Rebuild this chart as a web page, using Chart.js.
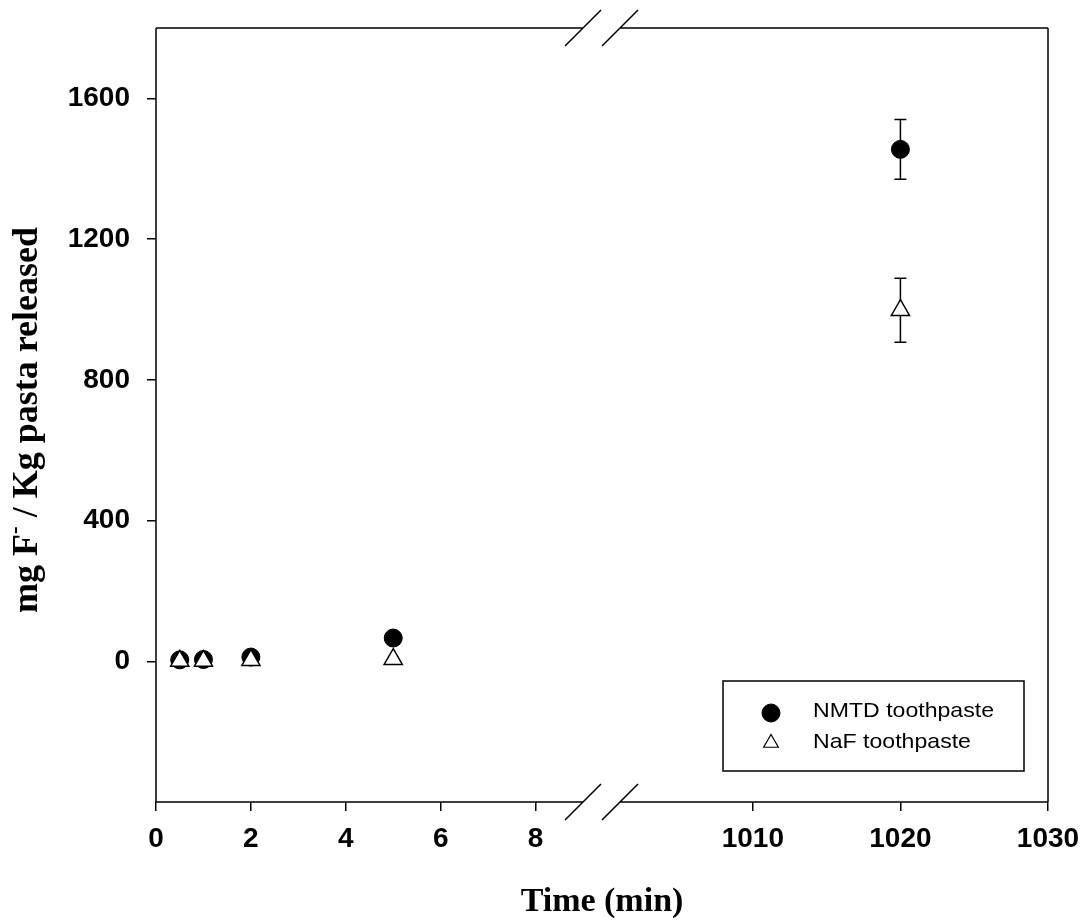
<!DOCTYPE html>
<html>
<head>
<meta charset="utf-8">
<script src="https://cdn.jsdelivr.net/npm/chart.js@4/dist/chart.umd.min.js"></script>
<style>
  html, body { margin: 0; padding: 0; background: #fff; }
  canvas { display: block; }
</style>
</head>
<body>
<canvas id="grafica" width="1088" height="923"></canvas>
<script>
// --- Datos ---
const tiempos = [0.5, 1, 2, 5, 1020];
const nmtd = [4, 5, 12, 66, 1455];
const nmtdErr = [0, 0, 0, 0, 85];
const naf = [1, 1, 3, 6, 998];
const nafErr = [0, 0, 0, 0, 91];
const xTicks = [0, 2, 4, 6, 8, 1010, 1020, 1030];
const yTicks = [0, 400, 800, 1200, 1600];
const etiquetas = ['NMTD toothpaste', 'NaF toothpaste'];

// --- Eje X partido (0-9 | 1001-1030) ---
const TRAMOS = [
    { min: 0, max: 9, from: 0, to: 0.4787 },
    { min: 1001, max: 1030, from: 0.5202, to: 1 }
];

class BrokenScale extends Chart.LinearScale {
    getPixelForValue(v) {
        let t = TRAMOS[TRAMOS.length - 1];
        for (const s of TRAMOS) { if (v <= s.max) { t = s; break; } }
        return this.getPixelForDecimal(t.from + (v - t.min) / (t.max - t.min) * (t.to - t.from));
    }
    getValueForPixel(p) {
        const d = this.getDecimalForPixel(p);
        let t = TRAMOS[TRAMOS.length - 1];
        for (const s of TRAMOS) { if (d <= s.to) { t = s; break; } }
        return t.min + (d - t.from) / (t.to - t.from) * (t.max - t.min);
    }
}
BrokenScale.id = 'broken';
BrokenScale.defaults = Chart.LinearScale.defaults;
Chart.register(BrokenScale);

const tickFont = { family: 'Liberation Sans, Arial, sans-serif', weight: 'bold', size: 28 };
const serif = '"Liberation Serif", "Times New Roman", serif';

// --- Barras de error (debajo de los marcadores) ---
const barrasError = {
    id: 'barrasError',
    beforeDatasetsDraw(chart) {
        const ctx = chart.ctx;
        const x = chart.scales.x, y = chart.scales.y;
        ctx.save();
        ctx.strokeStyle = '#000';
        ctx.lineWidth = 1.5;
        chart.data.datasets.forEach(ds => {
            ds.data.forEach((p, i) => {
                const e = ds.err[i];
                if (!e) return;
                const px = x.getPixelForValue(p.x);
                const top = y.getPixelForValue(p.y + e);
                const bot = y.getPixelForValue(p.y - e);
                ctx.beginPath();
                ctx.moveTo(px, top); ctx.lineTo(px, bot);
                ctx.moveTo(px - 6, top); ctx.lineTo(px + 6, top);
                ctx.moveTo(px - 6, bot); ctx.lineTo(px + 6, bot);
                ctx.stroke();
            });
        });
        ctx.restore();
    }
};

// --- Marco con corte ---
const marco = {
    id: 'marco',
    afterDraw(chart) {
        const ctx = chart.ctx;
        const a = chart.chartArea;
        const x = chart.scales.x;
        const g1 = x.getPixelForDecimal(TRAMOS[0].to);
        const g2 = x.getPixelForDecimal(TRAMOS[1].from);
        ctx.save();
        ctx.strokeStyle = '#000';
        ctx.lineWidth = 1.5;
        ctx.beginPath();
        ctx.moveTo(a.left, a.top); ctx.lineTo(a.left, a.bottom);
        ctx.moveTo(a.right, a.top); ctx.lineTo(a.right, a.bottom);
        [a.top, a.bottom].forEach(yy => {
            ctx.moveTo(a.left, yy); ctx.lineTo(g1, yy);
            ctx.moveTo(g2, yy); ctx.lineTo(a.right, yy);
            ctx.moveTo(g1 - 18, yy + 18); ctx.lineTo(g1 + 18, yy - 18);
            ctx.moveTo(g2 - 18, yy + 18); ctx.lineTo(g2 + 18, yy - 18);
        });
        ctx.stroke();
        ctx.restore();
    }
};

// --- Leyenda dentro del grafico ---
const leyenda = {
    id: 'leyenda',
    afterDraw(chart) {
        const ctx = chart.ctx;
        ctx.save();
        ctx.strokeStyle = '#000';
        ctx.lineWidth = 1.5;
        ctx.strokeRect(723, 681, 301, 90);
        const filas = [
            { y: 713, base: 717, style: 'circle', r: 9, fill: '#000', bw: 1 },
            { y: 743, base: 748, style: 'triangle', r: 8.5, fill: '#fff', bw: 1.2 }
        ];
        filas.forEach((f, i) => {
            ctx.fillStyle = f.fill;
            ctx.lineWidth = f.bw;
            Chart.helpers.drawPoint(ctx, { pointStyle: f.style, radius: f.r, borderWidth: f.bw, rotation: 0 }, 771, f.y);
            // texto algo ensanchado, como en el original
            ctx.save();
            ctx.translate(813, f.base);
            ctx.scale(1.1, 1);
            ctx.fillStyle = '#000';
            ctx.font = '21px "Liberation Sans", Arial, sans-serif';
            ctx.textBaseline = 'alphabetic';
            ctx.textAlign = 'left';
            ctx.fillText(etiquetas[i], 0, 0);
            ctx.restore();
        });
        ctx.restore();
    }
};

// --- Titulos de ejes ---
const titulos = {
    id: 'titulos',
    afterDraw(chart) {
        const ctx = chart.ctx;
        const a = chart.chartArea;
        ctx.save();
        ctx.fillStyle = '#000';
        ctx.font = 'bold 34px ' + serif;
        ctx.textBaseline = 'alphabetic';
        ctx.textAlign = 'center';
        ctx.fillText('Time (min)', (a.left + a.right) / 2, 911);

        // titulo Y rotado, con superindice en F
        const grande = 'bold 36px ' + serif, chica = 'bold 23px ' + serif;
        const p1 = 'mg F', sup = '-', p2 = ' / Kg pasta released';
        ctx.font = grande;
        const w1 = ctx.measureText(p1).width;
        const w3 = ctx.measureText(p2).width;
        ctx.font = chica;
        const w2 = ctx.measureText(sup).width;
        const total = w1 + w2 + w3;
        ctx.translate(37, 420);
        ctx.rotate(-Math.PI / 2);
        ctx.textAlign = 'left';
        let cx = -total / 2;
        ctx.font = grande;
        ctx.fillText(p1, cx, 0);
        cx += w1;
        ctx.font = chica;
        ctx.fillText(sup, cx, -15);
        cx += w2;
        ctx.font = grande;
        ctx.fillText(p2, cx, 0);
        ctx.restore();
    }
};

const ctx = document.getElementById('grafica').getContext('2d');
new Chart(ctx, {
    type: 'scatter',
    data: {
        datasets: [
            {
                label: etiquetas[0],
                data: tiempos.map((t, i) => ({ x: t, y: nmtd[i] })),
                err: nmtdErr,
                pointStyle: 'circle',
                pointRadius: 9,
                backgroundColor: '#000',
                borderColor: '#000',
                borderWidth: 1,
                order: 1
            },
            {
                label: etiquetas[1],
                data: tiempos.map((t, i) => ({ x: t, y: naf[i] })),
                err: nafErr,
                pointStyle: 'triangle',
                pointRadius: 10.5,
                backgroundColor: '#fff',
                borderColor: '#000',
                borderWidth: 1.5,
                order: 0
            }
        ]
    },
    options: {
        responsive: false,
        animation: false,
        events: [],
        layout: { padding: { top: 28, right: 40, left: 0, bottom: 0 } },
        plugins: { legend: { display: false }, tooltip: { enabled: false } },
        scales: {
            x: {
                type: 'broken',
                min: 0,
                max: 1030,
                border: { display: false },
                grid: { drawOnChartArea: false, tickLength: 9, color: '#000', lineWidth: 1.5 },
                ticks: { autoSkip: false, maxRotation: 0, padding: 11, color: '#000', font: tickFont, callback: v => String(v) },
                afterBuildTicks: s => { s.ticks = xTicks.map(v => ({ value: v })); },
                afterFit: s => { s.height = 121; s.paddingLeft = 0; s.paddingRight = 0; }
            },
            y: {
                min: -400,
                max: 1800,
                border: { display: false },
                grid: { drawOnChartArea: false, tickLength: 9, color: '#000', lineWidth: 1.5 },
                ticks: { padding: 17, color: '#000', font: tickFont, callback: v => String(v) },
                afterBuildTicks: s => { s.ticks = yTicks.map(v => ({ value: v })); },
                afterFit: s => { s.width = 156; s.paddingTop = 0; s.paddingBottom = 0; }
            }
        }
    },
    plugins: [barrasError, marco, leyenda, titulos]
});
</script>
</body>
</html>
